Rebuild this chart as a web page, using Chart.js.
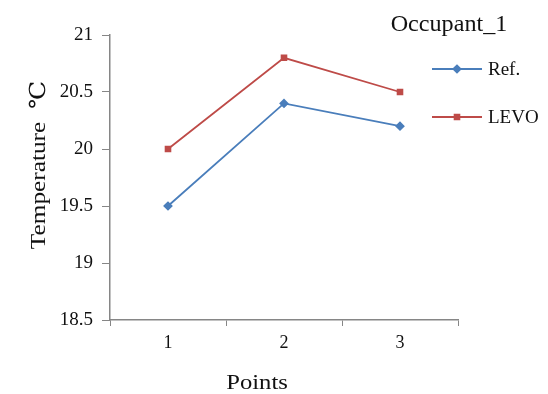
<!DOCTYPE html>
<html>
<head>
<meta charset="utf-8">
<script src="https://cdn.jsdelivr.net/npm/chart.js@4.4.1/dist/chart.umd.min.js"></script>
<style>
  html, body { margin: 0; padding: 0; background: #fff; }
  #wrap { width: 548px; height: 394px; position: relative; }
</style>
</head>
<body>
<div id="wrap"><canvas id="c" width="548" height="394"></canvas></div>
<script>
// Measurement points and temperatures (°C)
const categories = ['1', '2', '3'];
const refValues = [19.5, 20.4, 20.2];
const levoValues = [20.0, 20.8, 20.5];
const yTicks = [18.5, 19, 19.5, 20, 20.5, 21];

const chartTitle = 'Occupant_1';
const xTitle = 'Points';
const yTitle = 'Temperature  \u2103';

const SERIF = '"Liberation Serif", "Times New Roman", "DejaVu Serif", serif';
const TEXT = '#111';
const AXIS = '#868686';

// draw text slightly widened along its baseline
function wideText(ctx, text, x, y, stretch) {
  ctx.save();
  ctx.translate(x, y);
  ctx.scale(stretch, 1);
  ctx.fillText(text, 0, 0);
  ctx.restore();
}

// Title, legend and axis titles drawn on top of the plot
const annotations = {
  id: 'annotations',
  afterDraw(chart) {
    const ctx = chart.ctx;
    ctx.save();
    ctx.fillStyle = TEXT;

    ctx.font = '23px ' + SERIF;
    ctx.textAlign = 'center';
    ctx.textBaseline = 'alphabetic';
    wideText(ctx, chartTitle, 449, 31, 1.05);

    ctx.font = '22px ' + SERIF;
    wideText(ctx, xTitle, 257, 389, 1.12);

    ctx.save();
    ctx.translate(39, 165);
    ctx.rotate(-Math.PI / 2);
    ctx.textBaseline = 'middle';
    wideText(ctx, yTitle, 0, 0, 1.15);
    ctx.restore();

    // legend entries use each dataset's own styling
    const rows = [69, 117];
    chart.data.datasets.forEach((ds, i) => {
      const y = rows[i];
      ctx.strokeStyle = ds.borderColor;
      ctx.lineWidth = ds.borderWidth;
      ctx.beginPath();
      ctx.moveTo(432, y);
      ctx.lineTo(482, y);
      ctx.stroke();
      ctx.fillStyle = ds.pointBackgroundColor;
      ctx.strokeStyle = ds.pointBorderColor;
      Chart.helpers.drawPoint(ctx, {
        pointStyle: ds.pointStyle,
        radius: ds.pointRadius,
        borderWidth: 1
      }, 457, y);
      ctx.fillStyle = TEXT;
      ctx.font = '19px ' + SERIF;
      ctx.textAlign = 'left';
      ctx.textBaseline = 'middle';
      ctx.fillText(ds.label, 488, y + 1);
    });
    ctx.restore();
  }
};

new Chart(document.getElementById('c'), {
  type: 'line',
  data: {
    labels: categories,
    datasets: [
      {
        label: 'Ref.',
        data: refValues,
        borderColor: '#4A7EBB',
        backgroundColor: '#4A7EBB',
        pointBackgroundColor: '#4A7EBB',
        pointBorderColor: '#4A7EBB',
        borderWidth: 1.8,
        pointStyle: 'rectRot',
        pointRadius: 3.6,
        tension: 0
      },
      {
        label: 'LEVO',
        data: levoValues,
        borderColor: '#BE4B48',
        backgroundColor: '#BE4B48',
        pointBackgroundColor: '#BE4B48',
        pointBorderColor: '#BE4B48',
        borderWidth: 1.8,
        pointStyle: 'rect',
        pointRadius: 3.4,
        tension: 0
      }
    ]
  },
  options: {
    responsive: false,
    animation: false,
    devicePixelRatio: 1,
    layout: { padding: { left: 0, right: 90, top: 35, bottom: 0 } },
    plugins: {
      legend: { display: false },
      title: { display: false },
      tooltip: { enabled: false }
    },
    scales: {
      x: {
        type: 'category',
        offset: true,
        grid: {
          offset: true,
          drawOnChartArea: false,
          drawTicks: true,
          tickLength: 6,
          color: AXIS
        },
        border: { color: AXIS, width: 1.5 },
        ticks: {
          color: TEXT,
          font: { family: SERIF, size: 18 },
          padding: 6,
          maxRotation: 0
        },
        afterFit(scale) { scale.height = 74; }
      },
      y: {
        min: 18.5,
        max: 21,
        afterBuildTicks(scale) {
          scale.ticks = yTicks.map(v => ({ value: v }));
        },
        grid: {
          drawOnChartArea: false,
          drawTicks: true,
          tickLength: 8,
          color: AXIS
        },
        border: { color: AXIS, width: 1.5 },
        ticks: {
          color: TEXT,
          font: { family: SERIF, size: 19 },
          padding: 9,
          callback: v => String(v)
        },
        afterFit(scale) { scale.width = 110; }
      }
    }
  },
  plugins: [annotations]
});
</script>
</body>
</html>
